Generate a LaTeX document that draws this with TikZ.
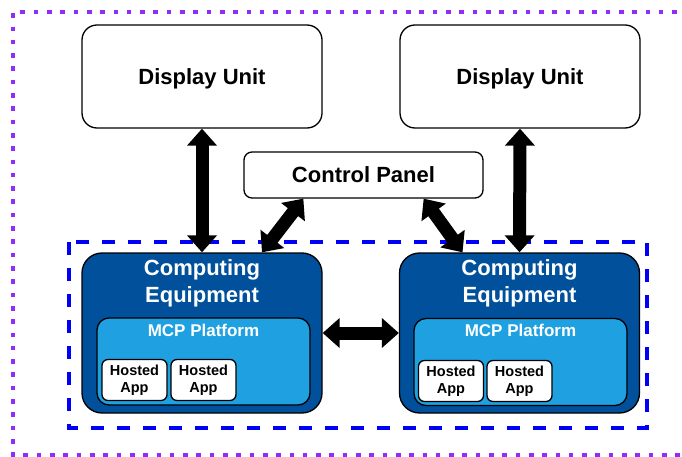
\documentclass[tikz,border=0pt]{standalone}
\usepackage{fontspec}
\setmainfont{Liberation Sans}
\usetikzlibrary{arrows.meta}
\definecolor{cebox}{RGB}{0,80,155}
\definecolor{mcpbox}{RGB}{30,160,225}
\definecolor{groupline}{RGB}{0,0,250}
\definecolor{frameline}{RGB}{145,45,250}

\begin{document}
\begin{tikzpicture}[x=1pt,y=-1pt]
\tikzset{font=\bfseries}
\tikzset{box/.style={draw, line width=1.3pt, inner sep=0pt, anchor=center}}
\tikzset{unit/.style={box, fill=white, rounded corners=15pt, minimum width=240pt, minimum height=103pt, font=\fontsize{22}{26}\bfseries, text depth=0pt}}
\tikzset{panel/.style={box, fill=white, rounded corners=8pt, minimum width=239pt, minimum height=46pt, font=\fontsize{22}{26}\bfseries, text depth=0pt}}
\tikzset{equip/.style={box, fill=cebox, rounded corners=20pt, minimum width=240pt, minimum height=160pt}}
\tikzset{equiptext/.style={text=white, align=center, font=\fontsize{22}{27}\bfseries}}
\tikzset{platform/.style={box, fill=mcpbox, rounded corners=12pt, minimum width=213pt, minimum height=87pt}}
\tikzset{platformtext/.style={text=white, font=\fontsize{17}{20}\bfseries}}
\tikzset{app/.style={box, fill=white, rounded corners=6pt, minimum width=65pt, minimum height=41pt, align=center, font=\fontsize{14.5}{17}\bfseries}}
\tikzset{link/.style={line width=13pt, {Triangle[width=29pt,length=17pt]}-{Triangle[width=29pt,length=17pt]}}}
\tikzset{group/.style={groupline, line width=4.5pt, dash pattern=on 13pt off 13pt}}
\tikzset{frame/.style={frameline, line width=4.6pt, dash pattern=on 4.6pt off 8.7pt}}

\useasboundingbox (0,0) rectangle (682,457);
\clip (0,0) rectangle (682,457);
\draw[frame] (690,12) -- (13,12) -- (13,455) -- (690,455);
\draw[group] (69,242) rectangle (647,428);

\node[unit] (duA) at (202,76.5) {Display Unit};
\node[unit] (duB) at (520,76.5) {Display Unit};
\node[panel] (cp) at (363.5,175) {Control Panel};

\node[equip] (ceA) at (202,333) {};
\node[equiptext] (ceAtxt) at (202,283.5) {Computing\\Equipment};
\node[platform] (mcpA) at (203.5,361.5) {};
\node[platformtext] (mcpAtxt) at (203.5,330) {MCP Platform};
\node[app] (appA1) at (134.5,380) {Hosted\\App};
\node[app] (appA2) at (203.5,380) {Hosted\\App};

\node[equip] (ceB) at (519.5,333) {};
\node[equiptext] (ceBtxt) at (519.5,283.5) {Computing\\Equipment};
\node[platform] (mcpB) at (520.5,362) {};
\node[platformtext] (mcpBtxt) at (520.5,330) {MCP Platform};
\node[app] (appB1) at (451,381) {Hosted\\App};
\node[app] (appB2) at (519.5,381) {Hosted\\App};

\draw[link] (duA.south) -- (ceA.north);
\draw[link] (duB.south) -- (ceB.north);
\draw[link] ([xshift=60pt]cp.south west) -- ([xshift=60pt]ceA.north);
\draw[link] ([xshift=-60pt]cp.south east) -- ([xshift=-57pt]ceB.north);
\draw[link] (ceA.east) -- (ceB.west);
\end{tikzpicture}
\end{document}
